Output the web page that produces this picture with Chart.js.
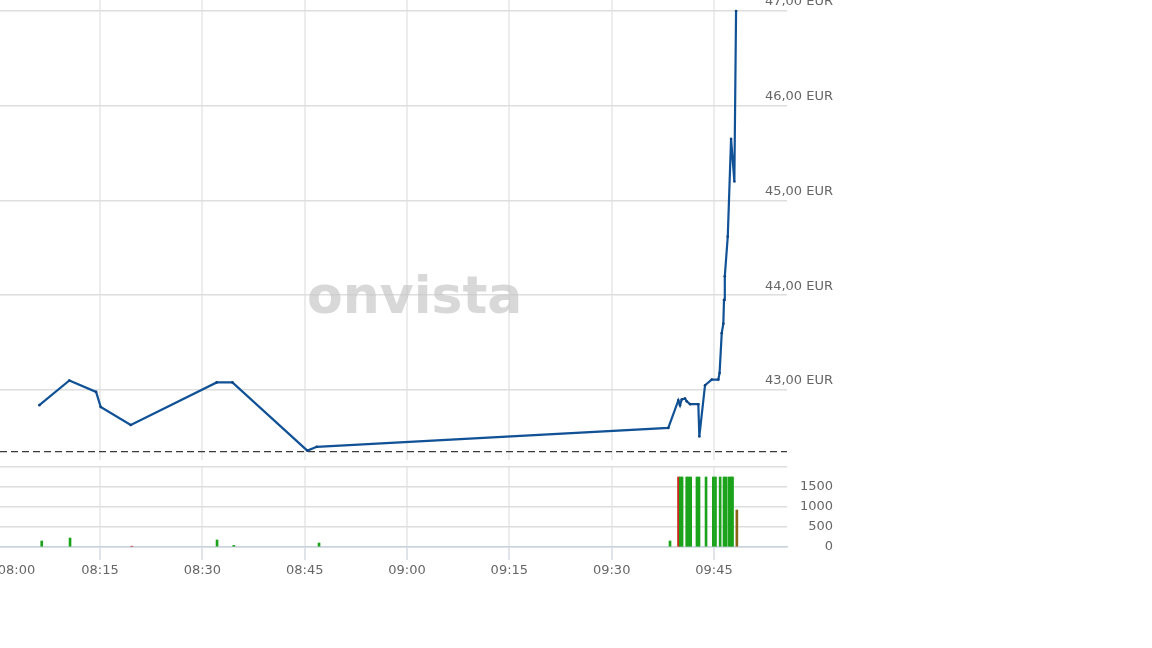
<!DOCTYPE html>
<html>
<head>
<meta charset="utf-8">
<script src="https://cdn.jsdelivr.net/npm/chart.js@4/dist/chart.umd.min.js"></script>
<style>
  html,body{margin:0;padding:0;background:#fff;width:1152px;height:648px;overflow:hidden;}
  canvas{position:absolute;left:0;}
  #price{top:0;}
  #vol{top:460px;}
</style>
</head>
<body>
<canvas id="price" width="1152" height="460"></canvas>
<canvas id="vol" width="1152" height="188"></canvas>
<script>
// ---- data ----
const priceTimes = ['08:06:06','08:10:30','08:14:25','08:15:06','08:19:30','08:32:06','08:34:24','08:45:23','08:46:46',
  '09:38:18','09:39:46','09:40:01','09:40:16','09:40:45','09:41:00','09:41:30','09:42:42','09:42:51','09:43:41',
  '09:44:40','09:45:38','09:45:49','09:46:08','09:46:22','09:46:28','09:46:35','09:47:01','09:47:30','09:47:59','09:48:14'];
const prices = [42.84,43.10,42.98,42.82,42.63,43.08,43.08,42.36,42.40,
  42.60,42.89,42.84,42.90,42.91,42.88,42.85,42.85,42.51,43.05,
  43.11,43.11,43.18,43.60,43.70,43.95,44.20,44.62,45.65,45.20,47.00];
const prevClose = 42.35;

const volTimes = ['08:06:27','08:10:36','08:19:39','08:32:09','08:34:36','08:47:06','09:38:33',
  '09:39:48','09:40:04','09:40:19','09:41:00','09:41:17','09:41:35','09:42:30','09:42:48','09:43:50',
  '09:44:54','09:45:13','09:45:54','09:46:28','09:46:46','09:47:12','09:47:30','09:47:43','09:48:21'];
const volumes = [150,225,20,175,40,100,150,
  1750,1750,1750,1750,1750,1750,1750,1750,1750,
  1750,1750,1750,1750,1750,1750,1750,1750,925];
const volSides = ['up','up','down','up','up','up','up',
  'down','up','up','up','up','up','up','up','up',
  'up','up','up','up','up','up','up','up','flat'];

const xTickLabels = ['08:00','08:15','08:30','08:45','09:00','09:15','09:30','09:45'];
const priceTicks = [43,44,45,46,47];
const volTicks = [0,500,1000,1500,2000];
const volTickLabels = ['0','500','1000','1500',''];
const xRange = ['08:00:20','09:55:42'];
const priceRange = [42.261,47.116];
const volRange = [0,2000];

// ---- helpers ----
const toMin = s => { const p = s.split(':').map(Number); return (p[0]-8)*60 + p[1] + (p[2]||0)/60; };
const xVals = xTickLabels.map(toMin);
const xMin = toMin(xRange[0]), xMax = toMin(xRange[1]);
const sideColors = {up:'#1ca31c', down:'#c9281d', flat:'#8a6416'};
const FONT = {family:'DejaVu Sans', size:13};
const TEXT = '#666666';
const PLOT_RIGHT = 787;
const CLEAR = 'rgba(0,0,0,0)';
Chart.defaults.font.family = 'DejaVu Sans';

const noPadY = s => { s.width = 1152 - PLOT_RIGHT; s.paddingTop = 0; s.paddingBottom = 0; };
const inRange = c => c.tick && c.tick.value >= xMin && c.tick.value <= xMax;

const watermark = {
  id:'watermark',
  beforeDatasetsDraw(chart){
    const {ctx, chartArea} = chart;
    ctx.save();
    ctx.font = 'bold 52px "DejaVu Sans"';
    ctx.fillStyle = 'rgba(200,200,200,0.7)';
    ctx.textAlign = 'center';
    ctx.textBaseline = 'alphabetic';
    ctx.fillText('onvista', chartArea.left + (chartArea.right-chartArea.left)*0.527, 313);
    ctx.restore();
  }
};

new Chart(document.getElementById('price'), {
  type:'line',
  data:{
    datasets:[
      {
        data: priceTimes.map((t,i)=>({x:toMin(t), y:prices[i]})),
        borderColor:'#115296', backgroundColor:'#0d4a88',
        borderWidth:2.2, pointRadius:1.3, pointBorderWidth:0,
        pointBackgroundColor:'#0d4480', tension:0
      },
      {
        data:[{x:xMin,y:prevClose},{x:xMax,y:prevClose}],
        borderColor:'#3a3a3a', borderWidth:1.3, borderDash:[7,4],
        pointRadius:0
      }
    ]
  },
  options:{
    responsive:false, animation:false, devicePixelRatio:1,
    layout:{padding:0, autoPadding:false},
    plugins:{legend:{display:false}, tooltip:{enabled:false}},
    scales:{
      x:{
        type:'linear', min:xMin, max:xMax,
        afterBuildTicks: s => { s.ticks = xVals.map(v=>({value:v})); },
        grid:{color: c => inRange(c) ? '#ececec' : CLEAR, lineWidth:2, drawTicks:false},
        border:{display:false},
        ticks:{display:false},
        afterFit: s => { s.height = 0; s.paddingLeft = 0; s.paddingRight = 0; }
      },
      y:{
        position:'right', min:priceRange[0], max:priceRange[1],
        afterBuildTicks: s => { s.ticks = priceTicks.map(v=>({value:v})); },
        grid:{color:'#dedede', lineWidth:1.5, drawTicks:false},
        border:{display:false},
        ticks:{mirror:true, autoSkip:false, padding:46, labelOffset:-9, color:TEXT, font:FONT,
          callback: v => v.toFixed(2).replace('.',',') + ' EUR'},
        afterFit: noPadY
      }
    }
  },
  plugins:[watermark]
});

new Chart(document.getElementById('vol'), {
  type:'bar',
  data:{
    datasets:[{
      data: volTimes.map((t,i)=>({x:toMin(t), y:volumes[i]})),
      backgroundColor: volSides.map(s=>sideColors[s]),
      barThickness:2, borderWidth:0
    }]
  },
  options:{
    responsive:false, animation:false, devicePixelRatio:1,
    layout:{padding:{top:7}, autoPadding:false},
    plugins:{legend:{display:false}, tooltip:{enabled:false}},
    scales:{
      x:{
        type:'linear', min:xMin, max:xMax, offset:false,
        afterBuildTicks: s => {
          s.ticks = xVals.map(v=>({value:v}));
          s.ticks.push({value: xVals[xVals.length-1] + 15});
        },
        grid:{offset:false, color: c => inRange(c) ? '#ececec' : CLEAR, lineWidth:2, tickLength:13,
          tickColor: c => inRange(c) ? '#c9d3dd' : CLEAR, tickWidth:1.2},
        border:{display:true, color:'#c9d3dd', width:1.5},
        ticks:{align:'inner', autoSkip:false, maxRotation:0, padding:3, color:TEXT, font:FONT,
          callback: v => { const i = xVals.indexOf(v); return i >= 0 ? xTickLabels[i] : ''; }},
        afterFit: s => { s.height = 101; s.paddingLeft = 0; s.paddingRight = 0; }
      },
      y:{
        position:'right', min:volRange[0], max:volRange[1],
        afterBuildTicks: s => { s.ticks = volTicks.map(v=>({value:v})); },
        grid:{color:'#dedede', lineWidth:1.5, drawTicks:false},
        border:{display:false},
        ticks:{mirror:true, autoSkip:false, padding:46, color:TEXT, font:FONT,
          callback: v => volTickLabels[volTicks.indexOf(v)]},
        afterFit: noPadY
      }
    }
  }
});
</script>
</body>
</html>
